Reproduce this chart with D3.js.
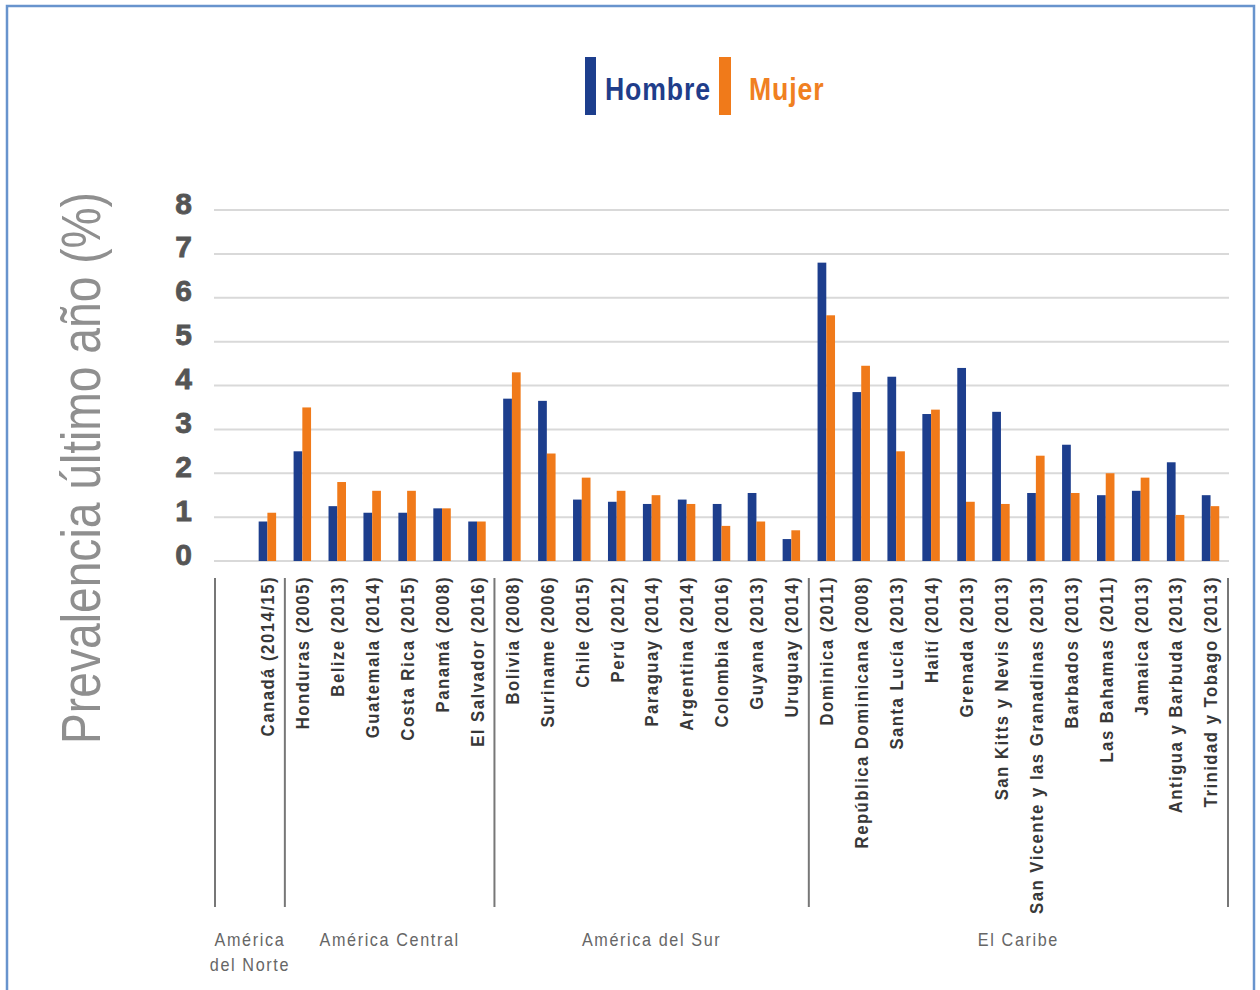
<!DOCTYPE html>
<html>
<head>
<meta charset="utf-8">
<script src="https://cdn.jsdelivr.net/npm/d3@7/dist/d3.min.js"></script>
<style>
  html, body { margin: 0; padding: 0; background: #fff; }
  svg { display: block; }
</style>
</head>
<body>
<svg id="chart" width="1260" height="990"></svg>
<script>
// ---- DATA ----
const countries = [
  "Canadá (2014/15)", "Honduras (2005)", "Belize (2013)", "Guatemala (2014)",
  "Costa Rica (2015)", "Panamá (2008)", "El Salvador (2016)",
  "Bolivia (2008)", "Suriname (2006)", "Chile (2015)", "Perú (2012)",
  "Paraguay (2014)", "Argentina (2014)", "Colombia (2016)", "Guyana (2013)",
  "Uruguay (2014)",
  "Dominica (2011)", "República Dominicana (2008)", "Santa Lucía (2013)",
  "Haití (2014)", "Grenada (2013)", "San Kitts y Nevis (2013)",
  "San Vicente y las Granadinas (2013)", "Barbados (2013)", "Las Bahamas (2011)",
  "Jamaica (2013)", "Antigua y Barbuda (2013)", "Trinidad y Tobago (2013)"
];
const hombre = [0.9, 2.5, 1.25, 1.1, 1.1, 1.2, 0.9,
  3.7, 3.65, 1.4, 1.35, 1.3, 1.4, 1.3, 1.55, 0.5,
  6.8, 3.85, 4.2, 3.35, 4.4, 3.4, 1.55, 2.65, 1.5, 1.6, 2.25, 1.5];
const mujer = [1.1, 3.5, 1.8, 1.6, 1.6, 1.2, 0.9,
  4.3, 2.45, 1.9, 1.6, 1.5, 1.3, 0.8, 0.9, 0.7,
  5.6, 4.45, 2.5, 3.45, 1.35, 1.3, 2.4, 1.55, 2.0, 1.9, 1.05, 1.25];
const groupNames = [["América", "del Norte"], ["América Central"], ["América del Sur"], ["El Caribe"]];
const groupSlots = [2, 6, 9, 12];   // América del Norte has an empty slot before Canadá
const yTicks = [0, 1, 2, 3, 4, 5, 6, 7, 8];
const seriesNames = ["Hombre", "Mujer"];
const yTitle = "Prevalencia último año (%)";

// ---- STYLE ----
const colors = { Hombre: "#1d3e8d", Mujer: "#f07a1a" };
const sans = "'Liberation Sans', Arial, sans-serif";
const squeeze = 0.88; // horizontal condensation of text (mimics a condensed face)

const svg = d3.select("#chart");

// frame
svg.append("rect")
  .attr("x", 7).attr("y", 6).attr("width", 1247).attr("height", 1010)
  .attr("fill", "none").attr("stroke", "#6894cd").attr("stroke-width", 2.5);

// slots: one empty slot, then the countries
const slots = ["__empty__"].concat(countries);
const x0 = d3.scaleBand().domain(slots).range([215, 1228]).paddingInner(0).paddingOuter(0);
const x1 = d3.scaleBand().domain(seriesNames).range([0, x0.bandwidth()]).paddingInner(0).paddingOuter(1);
const y = d3.scaleLinear().domain([0, 8]).range([561, 210]);

// gridlines
svg.append("g").selectAll("line").data(yTicks).join("line")
  .attr("x1", 214).attr("x2", 1229)
  .attr("y1", d => y(d)).attr("y2", d => y(d))
  .attr("stroke", "#d9d9d9").attr("stroke-width", 2);

// y axis labels via d3 axis
const yAxis = d3.axisLeft(y).tickValues(yTicks).tickSize(0).tickPadding(0).tickFormat(d3.format("d"));
const yg = svg.append("g").attr("transform", "translate(192,0)").call(yAxis);
yg.select(".domain").remove();
yg.selectAll("text")
  .attr("font-family", sans)
  .attr("font-weight", "bold")
  .attr("font-size", 30)
  .attr("fill", "#555")
  .attr("stroke", "#555").attr("stroke-width", 0.8)
  .attr("dy", "0.1em");

// y title
svg.append("text")
  .attr("transform", `translate(100,468) rotate(-90) scale(0.84,1)`)
  .attr("text-anchor", "middle")
  .attr("font-family", sans)
  .attr("font-size", 55)
  .attr("fill", "#8f8f8f")
  .text(yTitle);

// bars
const rows = countries.map((c, i) => ({ c, vals: [{ s: "Hombre", v: hombre[i] }, { s: "Mujer", v: mujer[i] }] }));
const cg = svg.append("g").selectAll("g").data(rows).join("g")
  .attr("transform", d => `translate(${x0(d.c)},0)`);
cg.selectAll("rect").data(d => d.vals).join("rect")
  .attr("x", d => x1(d.s))
  .attr("width", x1.bandwidth())
  .attr("y", d => y(d.v))
  .attr("height", d => y(0) - y(d.v))
  .attr("fill", d => colors[d.s]);

// country labels
svg.append("g").selectAll("text").data(countries).join("text")
  .attr("transform", d => `translate(${x0(d) + x0.bandwidth() / 2},576) rotate(-90) scale(${squeeze},1)`)
  .attr("text-anchor", "end")
  .attr("dy", "0.36em")
  .attr("font-family", sans)
  .attr("font-weight", "bold")
  .attr("font-size", 19)
  .attr("letter-spacing", 1.7)
  .attr("fill", "#383838")
  .text(d => d);

// group separators & labels
let start = 0;
const bounds = [];
groupSlots.forEach((n, gi) => {
  const a = x0(slots[start]);
  const b = x0(slots[start + n - 1]) + x0.bandwidth();
  bounds.push({ a, b, gi });
  start += n;
});
const sepX = [bounds[0].a].concat(bounds.map(d => d.b));
svg.append("g").selectAll("line").data(sepX).join("line")
  .attr("x1", d => d).attr("x2", d => d)
  .attr("y1", 578).attr("y2", 907)
  .attr("stroke", "#777").attr("stroke-width", 2);

const gl = svg.append("g").selectAll("text").data(bounds).join("text")
  .attr("transform", d => `translate(${(d.a + d.b) / 2},946) scale(0.9,1)`)
  .attr("text-anchor", "middle")
  .attr("font-family", sans)
  .attr("font-size", 18)
  .attr("letter-spacing", 1.8)
  .attr("fill", "#666");
gl.selectAll("tspan").data(d => groupNames[d.gi]).join("tspan")
  .attr("x", 0)
  .attr("dy", (d, i) => i === 0 ? 0 : 25)
  .text(d => d);

// legend
const legend = [
  { s: "Hombre", rx: 585, rw: 11, tx: 605 },
  { s: "Mujer", rx: 719, rw: 12, tx: 749 }
];
const lg = svg.append("g").selectAll("g").data(legend).join("g");
lg.append("rect")
  .attr("x", d => d.rx).attr("y", 57).attr("width", d => d.rw).attr("height", 58)
  .attr("fill", d => colors[d.s]);
lg.append("text")
  .attr("transform", d => `translate(${d.tx},100) scale(0.86,1)`)
  .attr("font-family", sans)
  .attr("font-weight", "bold")
  .attr("font-size", 31)
  .attr("letter-spacing", 1)
  .attr("fill", d => d.s === "Hombre" ? "#1f3d8a" : "#f08021")
  .text(d => d.s);
</script>
</body>
</html>
